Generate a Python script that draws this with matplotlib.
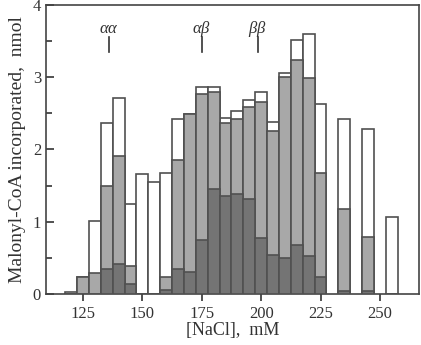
import matplotlib
matplotlib.use("Agg")
import matplotlib.pyplot as plt

nacl = [120, 125, 130, 135, 140, 145, 150, 155, 160, 165, 170, 175, 180, 185,
        190, 195, 200, 205, 210, 215, 220, 225, 235, 245, 255]
total = [0.02, 0.23, 1.01, 2.37, 2.71, 1.24, 1.66, 1.55, 1.68, 2.42, 2.49, 2.87,
         2.87, 2.44, 2.53, 2.68, 2.80, 2.38, 3.06, 3.51, 3.59, 2.63, 2.42, 2.28, 1.06]
middle = [0.0, 0.23, 0.29, 1.49, 1.91, 0.39, 0.0, 0.0, 0.23, 1.85, 2.49, 2.77,
          2.80, 2.36, 2.42, 2.58, 2.65, 2.26, 3.00, 3.24, 2.99, 1.67, 1.17, 0.79, 0.0]
dark = [0.0, 0.0, 0.0, 0.35, 0.41, 0.14, 0.0, 0.0, 0.06, 0.35, 0.31, 0.75,
        1.45, 1.35, 1.38, 1.31, 0.77, 0.54, 0.50, 0.68, 0.52, 0.23, 0.04, 0.04, 0.0]
ann_labels = [r"$\alpha\alpha$", r"$\alpha\beta$", r"$\beta\beta$"]
ann_x = [136, 175, 198.5]
xticks = [125, 150, 175, 200, 225, 250]
yticks = [0, 1, 2, 3, 4]

plt.rcParams['font.family'] = ['Liberation Serif', 'DejaVu Serif']
plt.rcParams['mathtext.fontset'] = 'custom'
plt.rcParams['mathtext.it'] = 'Liberation Serif:italic'
plt.rcParams['mathtext.rm'] = 'Liberation Serif'

fig = plt.figure(figsize=(4.21, 3.45), dpi=100)
ax = fig.add_axes([0.109, 0.148, 0.886, 0.838])

edge = '#505050'
w = 5
ax.bar(nacl, total, width=w, color='white', edgecolor=edge, linewidth=1.2, zorder=2)
ax.bar(nacl, middle, width=w, color='#a8a8a8', edgecolor=edge, linewidth=1.2, zorder=3)
ax.bar(nacl, dark, width=w, color='#747474', edgecolor=edge, linewidth=1.2, zorder=4)

for lab, xv in zip(ann_labels, ann_x):
    ax.text(xv, 3.67, lab, ha='center', va='center', fontsize=12, color='#333333')
    ax.plot([xv, xv], [3.35, 3.56], color='#333333', lw=1.2)

ax.set_xlim(109.4, 266.4)
ax.set_ylim(0, 4)
ax.set_xticks(xticks)
ax.set_yticks(yticks)
ax.set_yticks([0.5, 1.5, 2.5, 3.5], minor=True)
ax.tick_params(axis='both', direction='in', length=6, width=1.2, labelsize=12,
               colors='#333333', labelcolor='#333333')
ax.tick_params(axis='x', direction='out', length=5)
ax.tick_params(axis='y', which='minor', direction='in', length=4, width=1.2, colors='#333333')
for s in ax.spines.values():
    s.set_linewidth(1.2)
    s.set_color('#444444')

ax.set_xlabel('[NaCl],  mM', fontsize=13, color='#333333', labelpad=0)
ax.set_ylabel('Malonyl-CoA incorporated,  nmol', fontsize=14, color='#333333', labelpad=5)

fig.savefig('out.png', dpi=100)
